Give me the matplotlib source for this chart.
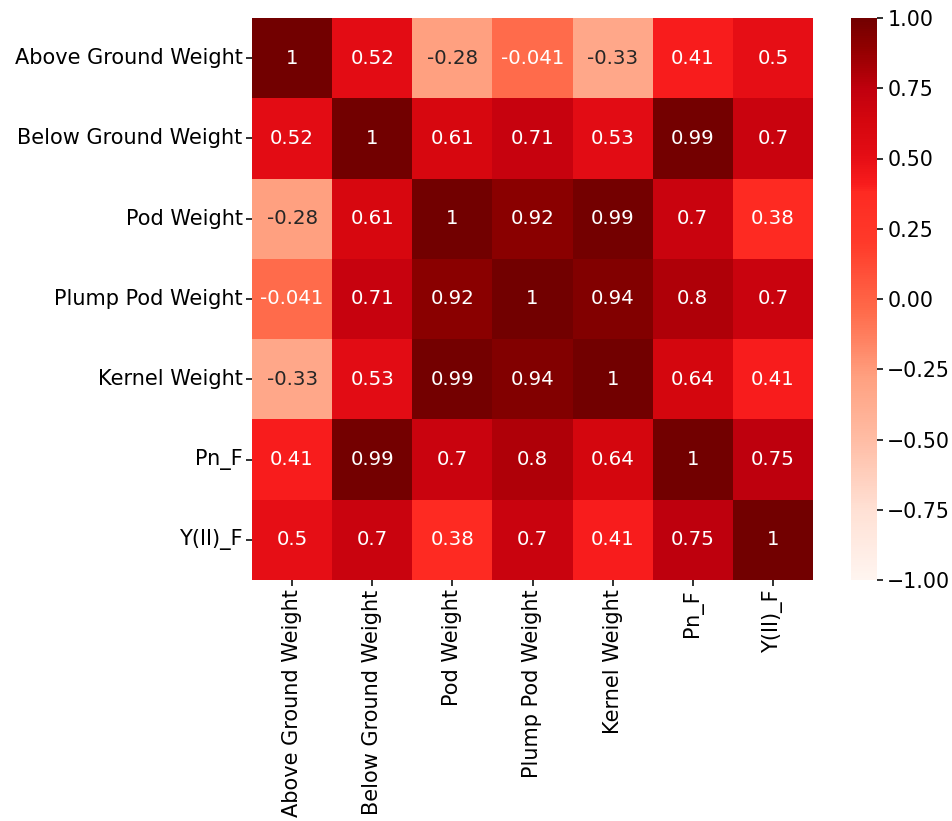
import matplotlib
matplotlib.use("Agg")
import matplotlib.pyplot as plt
from matplotlib.colors import LinearSegmentedColormap
import seaborn as sns
import pandas as pd

variables = ["Above Ground Weight", "Below Ground Weight", "Pod Weight",
             "Plump Pod Weight", "Kernel Weight", "Pn_F", "Y(II)_F"]

above_ground = [1, 0.52, -0.28, -0.041, -0.33, 0.41, 0.5]
below_ground = [0.52, 1, 0.61, 0.71, 0.53, 0.99, 0.7]
pod = [-0.28, 0.61, 1, 0.92, 0.99, 0.7, 0.38]
plump_pod = [-0.041, 0.71, 0.92, 1, 0.94, 0.8, 0.7]
kernel = [-0.33, 0.53, 0.99, 0.94, 1, 0.64, 0.41]
pn_f = [0.41, 0.99, 0.7, 0.8, 0.64, 1, 0.75]
y_ii_f = [0.5, 0.7, 0.38, 0.7, 0.41, 0.75, 1]

corr = pd.DataFrame([above_ground, below_ground, pod, plump_pod, kernel, pn_f, y_ii_f],
                    index=variables, columns=variables)

# vivid red ramp, white -> bright red -> dark maroon
red_stops = [
    (0.00, "#fff5f0"), (0.125, "#ffe0d4"), (0.25, "#ffbca4"), (0.36, "#ffa080"),
    (0.48, "#ff6a4a"), (0.60, "#ff3a2a"), (0.69, "#fe2a22"), (0.705, "#f81c1c"),
    (0.76, "#e30c14"), (0.82, "#d4060e"), (0.875, "#c0000e"), (0.90, "#b00008"),
    (0.95, "#900000"), (1.00, "#720000"),
]
vivid_reds = LinearSegmentedColormap.from_list("vivid_reds", red_stops)

W, H = 952, 821
dpi = 142
plt.rcParams["font.family"] = "DejaVu Sans"
plt.rcParams["font.size"] = 10
fig = plt.figure(figsize=(W / dpi, H / dpi), dpi=dpi)
ax = fig.add_axes([252 / W, 1 - 580 / H, (813 - 252) / W, (580 - 18) / H])
cax = fig.add_axes([851 / W, 1 - 580 / H, (877 - 851) / W, (580 - 18) / H])

sns.heatmap(corr, ax=ax, cbar_ax=cax, cmap=vivid_reds, vmin=-1, vmax=1,
            annot=True, annot_kws={"fontsize": 10})
ax.set_xticklabels(variables, rotation=90, fontsize=10.6)
ax.set_yticklabels(variables, rotation=0, fontsize=10.6)
ax.tick_params(length=3.2, pad=1.5)
cax.tick_params(labelsize=10.4, length=3.2, pad=2)
cax.set_yticks([-1, -0.75, -0.5, -0.25, 0, 0.25, 0.5, 0.75, 1])
for s in cax.spines.values():
    s.set_visible(False)

fig.savefig("out.png", dpi=dpi)
